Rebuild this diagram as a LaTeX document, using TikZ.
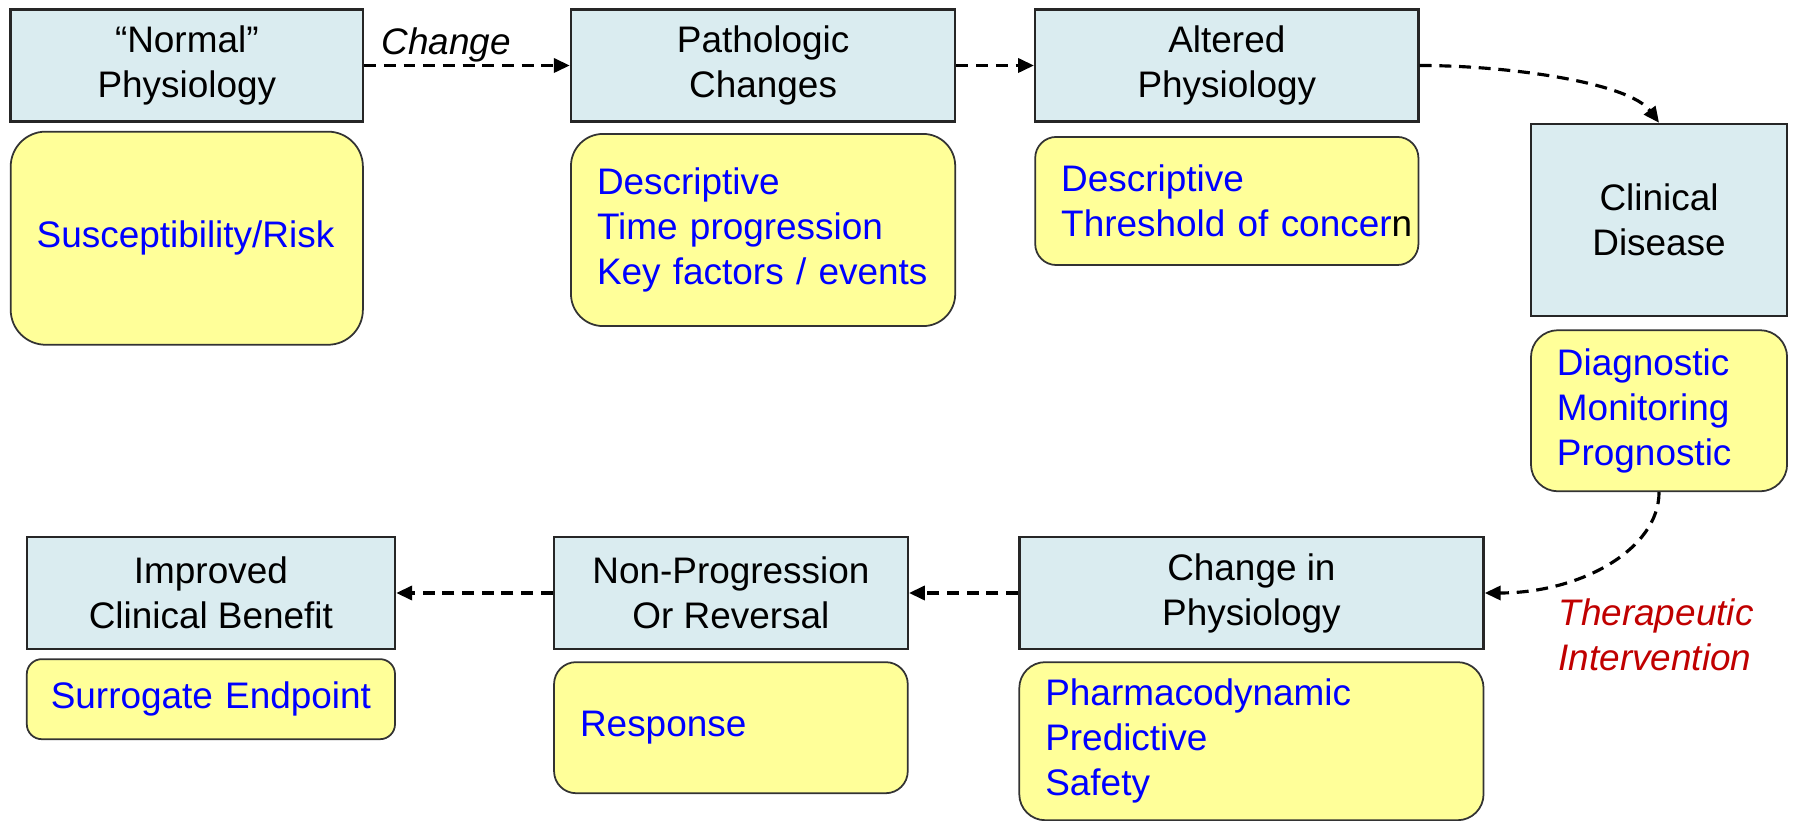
\documentclass[tikz,border=0pt]{standalone}
\usepackage{fontspec}
\setmainfont{Liberation Sans}
\usetikzlibrary{positioning,arrows.meta}
\definecolor{stageblue}{RGB}{218,236,240}
\definecolor{markeryellow}{RGB}{255,255,153}
\definecolor{textblue}{RGB}{0,0,255}
\definecolor{textred}{RGB}{192,0,0}

\begin{document}
\begin{tikzpicture}[->,>={Triangle[length=4.5pt,width=4pt]},x=0.01cm,y=0.01cm,
    font=\fontsize{10.5}{12.8}\selectfont,
    stage node/.style={rectangle,draw=black!85,line width=0.7pt,fill=stageblue,align=center,minimum height=1.12cm,inner sep=0pt},
    marker node/.style={rectangle,draw=black!80,line width=0.5pt,fill=markeryellow,text=textblue,align=left,inner xsep=0.26cm,inner ysep=0pt},
    flow/.style={line width=0.9pt,dash pattern=on 3.4pt off 2.2pt}]

\useasboundingbox (0,0) rectangle (1793,821);

% disease stages
\node[stage node,minimum width=3.52cm]                           (normal)   at (186.8,755.5) {“Normal”\\Physiology};
\node[stage node,minimum width=3.84cm,right=2.055cm of normal]   (patho)    {Pathologic\\Changes};
\node[stage node,minimum width=3.83cm,right=0.775cm of patho]    (altered)  {Altered\\Physiology};
\node[stage node,minimum width=2.56cm,minimum height=1.92cm,anchor=north west] (clinical) at ([xshift=1.1cm]altered.south east) {Clinical\\Disease};
\node[stage node,minimum width=3.68cm]                           (improved) at (210.9,228) {Improved\\Clinical Benefit};
\node[stage node,minimum width=3.535cm,right=1.565cm of improved] (nonprog) {Non-Progression\\Or Reversal};
\node[stage node,minimum width=4.64cm,right=1.09cm of nonprog]   (change)   {Change in\\Physiology};

% biomarker uses
\node[marker node,text width=3.00cm,minimum height=2.13cm,rounded corners=0.35cm,below=0.08cm of normal]   (risk)   {Susceptibility/Risk};
\node[marker node,text width=3.32cm,minimum height=1.92cm,rounded corners=0.32cm,below=0.103cm of patho]  (desc)   {Descriptive\\Time progression\\Key factors / events};
\node[marker node,text width=3.31cm,minimum height=1.28cm,rounded corners=0.21cm,below=0.133cm of altered] (thresh) {Descriptive\\\mbox{Threshold of concer{\color{black}n}}};
\node[marker node,text width=2.04cm,minimum height=1.61cm,rounded corners=0.27cm,below=0.12cm of clinical] (diag)   {Diagnostic\\Monitoring\\Prognostic};
\node[marker node,inner xsep=0.24cm,text width=3.20cm,minimum height=0.8cm,rounded corners=0.15cm,below=0.08cm of improved] (surr) {\mbox{Surrogate Endpoint}};
\node[marker node,text width=3.015cm,minimum height=1.31cm,rounded corners=0.22cm,below=0.11cm of nonprog] (resp)   {Response};
\node[marker node,text width=4.12cm,minimum height=1.58cm,rounded corners=0.26cm,below=0.11cm of change]  (pd)     {Pharmacodynamic\\Predictive\\Safety};

\node[text=textred,font=\fontsize{10.5}{12.8}\selectfont\itshape,align=left] (therapy) at (1656,186) {Therapeutic\\Intervention};

\path[flow]
(normal)  edge node[above,pos=0.4,inner sep=0.5pt,font=\fontsize{10.5}{12.8}\selectfont\itshape]{Change} (patho)
(patho)   edge (altered)
(change)  edge (nonprog)
(nonprog) edge (improved);
\draw[flow] (altered.east) .. controls +(90,0) and +(-30,40) .. (clinical.north);
\draw[flow] (diag.south) .. controls +(0,-57) and +(96,0) .. (change.east);
\end{tikzpicture}
\end{document}
